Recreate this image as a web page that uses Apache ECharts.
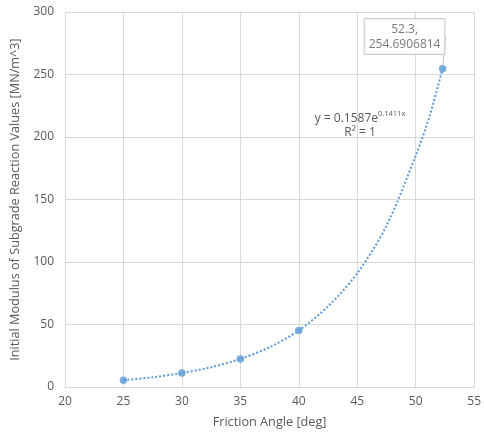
<!DOCTYPE html>
<html>
<head>
<meta charset="utf-8">
<script src="https://cdn.jsdelivr.net/npm/echarts@6/dist/echarts.min.js"></script>
<style>
  html, body { margin: 0; padding: 0; background: #fff; }
  #chart { width: 484px; height: 435px; }
</style>
</head>
<body>
<div id="chart"></div>
<script>
// 数据点
const frictionAngle = [25, 30, 35, 40, 52.3];
const modulusValues = [5.4, 11.2, 22.5, 45.2, 254.6906814];
// 趋势线
const trendX = [25, 27.5, 30, 32.5, 35, 37.5, 40, 42.5, 45, 47.5, 50, 51.2, 52.3];
const trendY = [5.4, 7.8, 11.2, 15.8, 22.5, 31.8, 45.2, 64.5, 91, 129, 185, 217, 254.7];
const equationText = 'y = 0.1587e';
const equationExp = '0.1411x';
const rSquaredText = 'R² = 1';

const chart = echarts.init(document.getElementById('chart'), null, { renderer: 'canvas' });

const textColor = '#595959';
const gridColor = '#d9d9d9';
const pointColor = '#5b9bd5';
const font = 'Open Sans';

const lastIndex = frictionAngle.length - 1;
const seriesData = frictionAngle.map((x, i) => {
    const item = { value: [x, modulusValues[i]] };
    if (i === lastIndex) {
        item.label = {
            show: true,
            position: 'top',
            formatter: x + ',\n' + modulusValues[i],
            color: textColor,
            fontFamily: font,
            fontSize: 12,
            lineHeight: 15,
            backgroundColor: '#fff',
            borderColor: '#bfbfbf',
            borderWidth: 1,
            padding: [3, 4, 2, 4]
        };
        item.labelLine = { show: true, lineStyle: { color: '#bfbfbf', width: 1 } };
    }
    return item;
});

const option = {
    animation: false,
    grid: { left: 65, right: 8, top: 12, bottom: 48 },
    xAxis: {
        type: 'value',
        min: 20, max: 55, interval: 5,
        name: 'Friction Angle [deg]',
        nameLocation: 'middle',
        nameGap: 29,
        nameTextStyle: { color: textColor, fontFamily: font, fontSize: 12.7 },
        axisLine: { show: true, lineStyle: { color: gridColor } },
        axisTick: { show: false },
        axisLabel: { color: textColor, fontFamily: font, fontSize: 12, margin: 9 },
        splitLine: { show: true, lineStyle: { color: gridColor } }
    },
    yAxis: {
        type: 'value',
        min: 0, max: 300, interval: 50,
        name: 'Initial Modulus of Subgrade Reaction Values [MN/m^3]',
        nameLocation: 'middle',
        nameGap: 43,
        nameTextStyle: { color: textColor, fontFamily: font, fontSize: 12.7 },
        axisLine: { show: false },
        axisTick: { show: false },
        axisLabel: { color: textColor, fontFamily: font, fontSize: 12, margin: 11 },
        splitLine: { show: true, lineStyle: { color: gridColor } }
    },
    series: [
        {
            // 趋势线
            type: 'line',
            data: trendX.map((x, i) => [x, trendY[i]]),
            smooth: 0.3,
            showSymbol: false,
            lineStyle: { color: pointColor, width: 2, type: [2, 2] },
            z: 1
        },
        {
            type: 'scatter',
            data: seriesData,
            symbolSize: 7.5,
            itemStyle: { color: pointColor },
            labelLayout: { dx: -38, dy: -6 },
            z: 3
        }
    ],
    graphic: [
        {
            type: 'text',
            x: 360, y: 110,
            style: {
                text: '{a|' + equationText + '}{b|' + equationExp + '}\n{c|' + rSquaredText + '}',
                align: 'center',
                rich: {
                    a: { fontFamily: font, fontSize: 12, fill: textColor, verticalAlign: 'bottom', lineHeight: 15 },
                    b: { fontFamily: font, fontSize: 7.5, fill: textColor, verticalAlign: 'top', lineHeight: 15 },
                    c: { fontFamily: font, fontSize: 12, fill: textColor, lineHeight: 15, align: 'center' }
                }
            }
        }
    ]
};

chart.setOption(option);
</script>
</body>
</html>
